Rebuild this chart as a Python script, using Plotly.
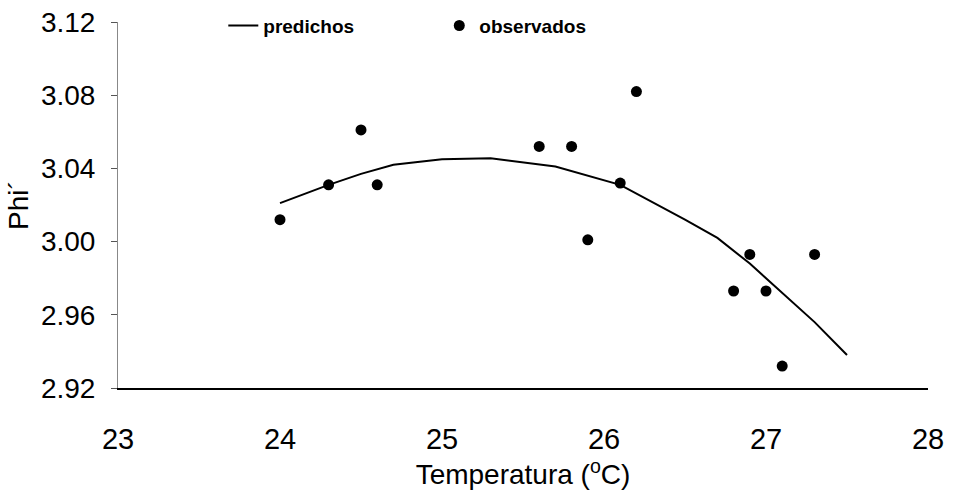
import plotly.graph_objects as go

# Observed data
obs_temp = [24.0, 24.3, 24.5, 24.6, 25.6, 25.8, 25.9, 26.1, 26.2, 26.8, 26.9, 27.0, 27.1, 27.3]
obs_phi = [3.012, 3.031, 3.061, 3.031, 3.052, 3.052, 3.001, 3.032, 3.082, 2.973, 2.993, 2.973, 2.932, 2.993]

# Predicted curve
pred_temp = [24.0, 24.3, 24.5, 24.7, 25.0, 25.3, 25.7, 26.1, 26.5, 26.7, 26.9, 27.1, 27.3, 27.5]
pred_phi = [3.021, 3.031, 3.037, 3.042, 3.045, 3.0455, 3.041, 3.031, 3.012, 3.002, 2.988, 2.972, 2.956, 2.938]

y_ticks = [2.92, 2.96, 3.00, 3.04, 3.08, 3.12]
x_ticks = [23, 24, 25, 26, 27, 28]

fig = go.Figure()
fig.add_trace(go.Scatter(x=pred_temp, y=pred_phi, mode="lines", name="predichos",
                         line=dict(color="black", width=2)))
fig.add_trace(go.Scatter(x=obs_temp, y=obs_phi, mode="markers", name="observados",
                         marker=dict(color="black", size=11)))

font_main = "Arial, Liberation Sans, sans-serif"
fig.update_layout(
    width=953, height=498,
    margin=dict(l=118, r=25, t=22, b=110, autoexpand=False),
    paper_bgcolor="white", plot_bgcolor="white",
    font=dict(family=font_main, color="black"),
    legend=dict(orientation="h", x=0.13, y=0.99, xanchor="left", yanchor="middle",
                font=dict(size=19, family=font_main, weight="bold"),
                entrywidth=171, bgcolor="rgba(0,0,0,0)"),
    xaxis=dict(range=[23, 28], tickvals=x_ticks, ticktext=[str(v) for v in x_ticks],
               showgrid=False, zeroline=False, showline=True, linecolor="black", linewidth=1.5,
               ticks="", tickfont=dict(size=29), ticklabelstandoff=24,
               title=dict(text="Temperatura (<sup>o</sup>C)", font=dict(size=28), standoff=4)),
    yaxis=dict(range=[2.92, 3.12], tickvals=y_ticks, ticktext=[f"{v:.2f}" for v in y_ticks],
               showgrid=False, zeroline=False, showline=True, linecolor="#888", linewidth=1,
               ticks="outside", ticklen=6, tickcolor="#555", tickfont=dict(size=28),
               ticklabelstandoff=10,
               title=dict(text="Phi´", font=dict(size=28), standoff=4)),
)

fig.write_html("out.html")
